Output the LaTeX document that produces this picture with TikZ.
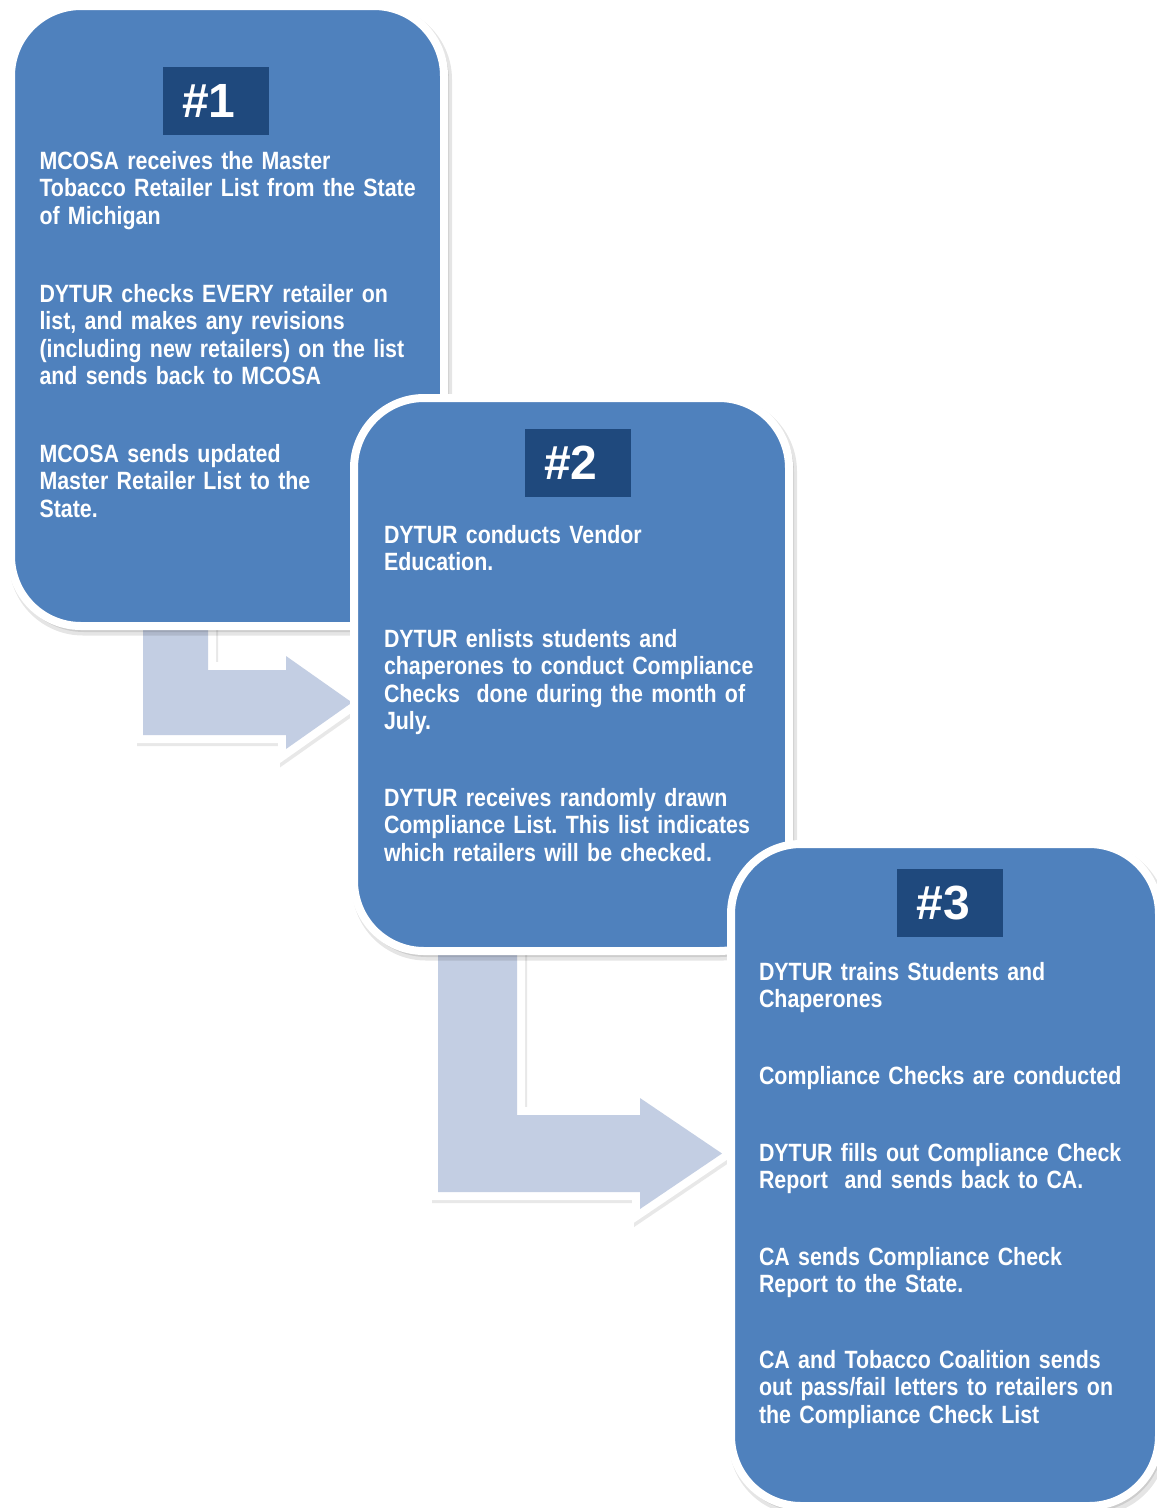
\documentclass[tikz,border=0pt]{standalone}
\usepackage{fontspec}
\setmainfont{Liberation Sans}
\newfontfamily\narrowfont{Liberation Sans}[FakeStretch=0.855]
\definecolor{boxblue}{RGB}{79,129,189}
\definecolor{labelblue}{RGB}{31,73,125}
\definecolor{arrowfill}{RGB}{195,206,227}
\frenchspacing
\begin{document}
\begin{tikzpicture}[x=1pt,y=-1pt,
  stepbox/.style={rectangle, rounded corners=70pt, fill=boxblue, draw=white, line width=8pt, inner sep=0pt, outer sep=0pt},
  boxshadow/.style={rectangle, rounded corners=74pt, fill=black, opacity=0.10, draw=none, inner sep=0pt, outer sep=0pt},
  numlabel/.style={rectangle, fill=labelblue, text=white, minimum width=106pt, minimum height=68pt, inner sep=0pt, font=\bfseries\fontsize{48}{48}\selectfont},
  para/.style={anchor=base west, inner sep=0pt, outer sep=0pt, text=white, text width=420pt, align=left, font=\narrowfont\bfseries\fontsize{25}{27.5}\selectfont},
  arrowborder/.style={draw=white, line width=16pt, line join=miter, fill=white},
  arrowshade/.style={draw=black!9, line width=16pt, line join=miter, fill=black!9},
  arrowbody/.style={fill=arrowfill, draw=none}
]
\useasboundingbox (0,0) rectangle (1157,1508);
\fill[white] (0,0) rectangle (1157,1508);

% ---------- arrow 1 ----------
\begin{scope}[shift={(2,3)}]
  \path[arrowshade] (143,590) -- (208,590) -- (208,670) -- (286,670) -- (286,656) -- (352,702.5) -- (286,749) -- (286,735) -- (143,735) -- cycle;
\end{scope}
\path[arrowborder] (143,590) -- (208,590) -- (208,670) -- (286,670) -- (286,656) -- (352,702.5) -- (286,749) -- (286,735) -- (143,735) -- cycle;
\path[arrowbody] (143,590) -- (208,590) -- (208,670) -- (286,670) -- (286,656) -- (352,702.5) -- (286,749) -- (286,735) -- (143,735) -- cycle;

% ---------- arrow 2 ----------
\begin{scope}[shift={(2,3)}]
  \path[arrowshade] (438,930) -- (517,930) -- (517,1115) -- (640,1115) -- (640,1098) -- (722,1153.5) -- (640,1209) -- (640,1192) -- (438,1192) -- cycle;
\end{scope}
\path[arrowborder] (438,930) -- (517,930) -- (517,1115) -- (640,1115) -- (640,1098) -- (722,1153.5) -- (640,1209) -- (640,1192) -- (438,1192) -- cycle;
\path[arrowbody] (438,930) -- (517,930) -- (517,1115) -- (640,1115) -- (640,1098) -- (722,1153.5) -- (640,1209) -- (640,1192) -- (438,1192) -- cycle;

% ---------- box 1 ----------
\node[boxshadow, minimum width=443pt, minimum height=630pt] (b1s) at (230.5,320.5) {};
\node[boxshadow, minimum width=439pt, minimum height=626pt] (b1t) at (229.5,319) {};
\node[stepbox, minimum width=433pt, minimum height=620pt] (b1) at (227.5,316) {};
\node[numlabel] (l1) at (216,101) {\raisebox{-6pt}{\#1}\rule{14pt}{0pt}};
\node[para] (p1a) at (39.5,169) {MCOSA receives the Master\\Tobacco Retailer List from the State\\of Michigan};
\node[para] (p1b) at (39.5,302) {DYTUR checks EVERY retailer on\\list, and makes any revisions\\(including new retailers) on the list\\and sends back to MCOSA};
\node[para] (p1c) at (39.5,462) {MCOSA sends updated\\Master Retailer List to the\\State.};

% ---------- box 2 ----------
\node[boxshadow, minimum width=445pt, minimum height=563pt] (b2s) at (574.5,679) {};
\node[boxshadow, minimum width=441pt, minimum height=559pt] (b2t) at (573.5,677.5) {};
\node[stepbox, minimum width=435pt, minimum height=553pt] (b2) at (571.5,674.5) {};
\node[numlabel] (l2) at (578,463) {\raisebox{-6pt}{\#2}\rule{14pt}{0pt}};
\node[para] (p2a) at (384,543) {DYTUR conducts Vendor\\Education.};
\node[para] (p2b) at (384,647) {DYTUR enlists students and\\chaperones to conduct Compliance\\Checks\ \ done during the month of\\July.};
\node[para] (p2c) at (384,806) {DYTUR receives randomly drawn\\Compliance List. This list indicates\\which retailers will be checked.};

% ---------- box 3 ----------
\node[boxshadow, minimum width=438pt, minimum height=672pt] (b3s) at (948,1179.5) {};
\node[boxshadow, minimum width=434pt, minimum height=668pt] (b3t) at (947,1178) {};
\node[stepbox, minimum width=428pt, minimum height=662pt] (b3) at (945,1175) {};
\node[numlabel] (l3) at (950,903) {\raisebox{-6pt}{\#3}\rule{14pt}{0pt}};
\node[para] (p3a) at (759,980) {DYTUR trains Students and\\Chaperones};
\node[para] (p3b) at (759,1084) {Compliance Checks are conducted};
\node[para] (p3c) at (759,1161) {DYTUR fills out Compliance Check\\Report\ \ and sends back to CA.};
\node[para] (p3d) at (759,1265) {CA sends Compliance Check\\Report to the State.};
\node[para] (p3e) at (759,1368) {CA and Tobacco Coalition sends\\out pass/fail letters to retailers on\\the Compliance Check List};
\end{tikzpicture}
\end{document}
